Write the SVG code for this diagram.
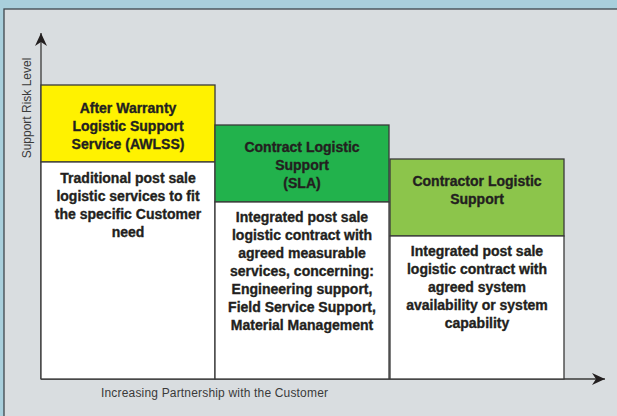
<svg xmlns="http://www.w3.org/2000/svg" width="617" height="416" viewBox="0 0 617 416">
<style>
.box{stroke:#3a3a3a;stroke-width:1.3}
.hd{font-family:"Liberation Sans",Arial,sans-serif;font-weight:bold;font-size:14px;fill:#231f20;stroke:#231f20;stroke-width:0.35;text-anchor:middle}
.ax{font-family:"Liberation Sans",Arial,sans-serif;font-size:12px;fill:#3a3a3a}
.axis{stroke:#3a3a3a;stroke-width:1.3;fill:none}
</style>
<defs>
<marker id="arr" viewBox="-14 -7 15 14" refX="0" refY="0" markerWidth="15" markerHeight="14" markerUnits="userSpaceOnUse" orient="auto">
<path d="M0,0 L-13,-6 L-9,0 L-13,6 Z" fill="#231f20"/>
</marker>
</defs>
<rect x="0" y="0" width="617" height="416" fill="#a9cfdc"/>
<rect x="4" y="9" width="620" height="420" fill="#d9dde0" stroke="#3f474d" stroke-width="1.3"/>
<g id="connectors">
<line class="axis" x1="41" y1="379" x2="41" y2="33" marker-end="url(#arr)"/>
<line class="axis" x1="41" y1="379" x2="605" y2="379" marker-end="url(#arr)"/>
</g>
<g id="awlss">
<rect class="box" x="41" y="85" width="174" height="77" fill="#fff200"/>
<rect class="box" x="41" y="162" width="174" height="217" fill="#ffffff"/>
<text class="hd" x="128" y="113">After Warranty</text>
<text class="hd" x="128" y="131">Logistic Support</text>
<text class="hd" x="128" y="149">Service (AWLSS)</text>
<text class="hd" x="128" y="183">Traditional post sale</text>
<text class="hd" x="128" y="201">logistic services to fit</text>
<text class="hd" x="128" y="219">the specific Customer</text>
<text class="hd" x="128" y="237">need</text>
</g>
<g id="sla">
<rect class="box" x="215" y="125" width="174" height="77" fill="#22b24c"/>
<rect class="box" x="215" y="202" width="174" height="177" fill="#ffffff"/>
<text class="hd" x="302" y="152">Contract Logistic</text>
<text class="hd" x="302" y="170">Support</text>
<text class="hd" x="302" y="188">(SLA)</text>
<text class="hd" x="302" y="222">Integrated post sale</text>
<text class="hd" x="302" y="240">logistic contract with</text>
<text class="hd" x="302" y="258">agreed measurable</text>
<text class="hd" x="302" y="276">services, concerning:</text>
<text class="hd" x="302" y="294">Engineering support,</text>
<text class="hd" x="302" y="312">Field Service Support,</text>
<text class="hd" x="302" y="330">Material Management</text>
</g>
<g id="cls">
<rect class="box" x="390" y="159" width="174" height="77" fill="#8cc54b"/>
<rect class="box" x="390" y="236" width="174" height="143" fill="#ffffff"/>
<text class="hd" x="477" y="186">Contractor Logistic</text>
<text class="hd" x="477" y="204">Support</text>
<text class="hd" x="477" y="256">Integrated post sale</text>
<text class="hd" x="477" y="274">logistic contract with</text>
<text class="hd" x="477" y="292">agreed system</text>
<text class="hd" x="477" y="310">availability or system</text>
<text class="hd" x="477" y="328">capability</text>
</g>
<g id="axis-labels">
<text class="ax" text-anchor="middle" transform="translate(31,108) rotate(-90)">Support Risk Level</text>
<text class="ax" x="101" y="397" textLength="227" lengthAdjust="spacing">Increasing Partnership with the Customer</text>
</g>
</svg>
